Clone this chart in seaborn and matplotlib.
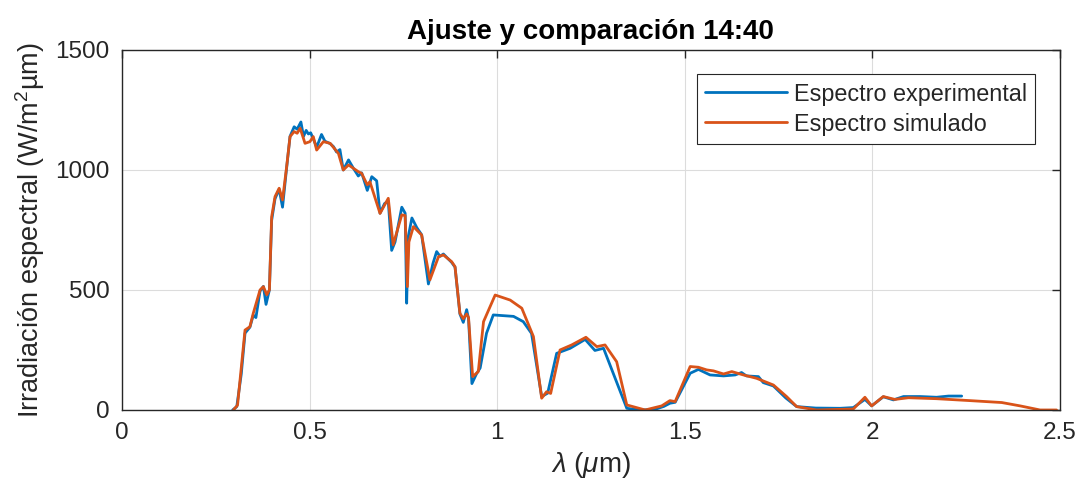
"""Ajuste y comparación del espectro experimental con el simulado (14:40)."""

import matplotlib
matplotlib.use("Agg")
import matplotlib.pyplot as plt
import numpy as np
import pandas as pd
import seaborn as sns

# --- datos ---
lam_exp = [0.295, 0.306, 0.318, 0.328, 0.341, 0.350, 0.357, 0.368, 0.377, 0.384,
           0.393, 0.399, 0.408, 0.419, 0.428, 0.439, 0.448, 0.459, 0.467, 0.477,
           0.484, 0.491, 0.497, 0.503, 0.510, 0.519, 0.532, 0.541, 0.555, 0.564,
           0.572, 0.581, 0.590, 0.604, 0.617, 0.630, 0.639, 0.654, 0.666, 0.679,
           0.688, 0.700, 0.710, 0.719, 0.728, 0.746, 0.755, 0.759, 0.763, 0.773,
           0.786, 0.799, 0.817, 0.829, 0.839, 0.848, 0.857, 0.879, 0.888, 0.901,
           0.910, 0.919, 0.924, 0.933, 0.945, 0.955, 0.972, 0.990, 1.044, 1.070,
           1.092, 1.119, 1.135, 1.159, 1.195, 1.235, 1.261, 1.284, 1.346, 1.380,
           1.420, 1.445, 1.461, 1.475, 1.515, 1.537, 1.568, 1.604, 1.635, 1.652,
           1.665, 1.697, 1.710, 1.737, 1.770, 1.799, 1.850, 1.915, 1.950, 1.981,
           1.999, 2.030, 2.057, 2.084, 2.128, 2.172, 2.204, 2.239]
irr_exp = [0, 14, 150, 320, 345, 395, 385, 495, 515, 440,
           500, 790, 880, 920, 845, 1010, 1140, 1180, 1170, 1200,
           1140, 1165, 1150, 1155, 1130, 1095, 1148, 1120, 1110, 1097,
           1075, 1085, 1000, 1042, 1007, 975, 988, 915, 972, 955,
           820, 860, 870, 665, 700, 845, 820, 445, 720, 800,
           760, 730, 525, 610, 660, 640, 650, 615, 595, 400,
           365, 418, 380, 110, 150, 175, 320, 396, 390, 368,
           319, 56, 70, 236, 257, 294, 248, 257, 7, 0,
           2, 15, 28, 32, 153, 169, 146, 142, 146, 156,
           142, 139, 114, 100, 50, 14, 8, 7, 10, 44,
           17, 55, 42, 56, 56, 53, 58, 58]

lam_sim = [0.297, 0.308, 0.328, 0.341, 0.350, 0.368, 0.377, 0.386, 0.393, 0.399,
           0.408, 0.419, 0.428, 0.439, 0.448, 0.459, 0.467, 0.475, 0.488, 0.501,
           0.510, 0.519, 0.537, 0.555, 0.577, 0.590, 0.604, 0.617, 0.630, 0.639,
           0.654, 0.661, 0.688, 0.710, 0.723, 0.746, 0.755, 0.761, 0.765, 0.777,
           0.799, 0.821, 0.844, 0.857, 0.879, 0.888, 0.901, 0.910, 0.919, 0.924,
           0.935, 0.950, 0.964, 0.995, 1.035, 1.066, 1.097, 1.119, 1.132, 1.143,
           1.168, 1.199, 1.237, 1.266, 1.288, 1.319, 1.346, 1.395, 1.439, 1.461,
           1.475, 1.515, 1.537, 1.559, 1.577, 1.604, 1.626, 1.657, 1.692, 1.737,
           1.772, 1.799, 1.852, 1.950, 1.981, 1.999, 2.030, 2.061, 2.097, 2.172,
           2.261, 2.346, 2.395, 2.448, 2.492]
irr_sim = [0, 20, 333, 347, 403, 500, 514, 480, 500, 805,
           889, 924, 875, 1014, 1139, 1160, 1153, 1174, 1111, 1118,
           1139, 1083, 1118, 1111, 1069, 1000, 1021, 1007, 993, 986,
           938, 951, 819, 882, 688, 813, 810, 514, 700, 764,
           729, 542, 639, 646, 618, 597, 403, 380, 400, 385,
           139, 160, 368, 479, 458, 424, 306, 49, 76, 69,
           250, 271, 303, 264, 271, 201, 21, 0, 17, 39,
           35, 181, 178, 167, 163, 150, 160, 146, 132, 104,
           56, 14, 0, 4, 53, 17, 56, 44, 51, 47,
           39, 31, 17, 0, 0]

series_names = ["Espectro experimental", "Espectro simulado"]
colors = ["#0072BD", "#D95319"]

sns.set_theme(style="whitegrid")
plt.rcParams["font.family"] = ["Liberation Sans", "DejaVu Sans"]
plt.rcParams["mathtext.fontset"] = "custom"
plt.rcParams["mathtext.it"] = "Liberation Sans:italic"
plt.rcParams["mathtext.rm"] = "Liberation Sans"

df = pd.concat([
    pd.DataFrame({"lam": lam_exp, "irr": irr_exp, "serie": series_names[0]}),
    pd.DataFrame({"lam": lam_sim, "irr": irr_sim, "serie": series_names[1]}),
], ignore_index=True)

fig = plt.figure(figsize=(10.77, 4.93), dpi=100)
ax = fig.add_axes([0.1133, 0.1684, 0.8705, 0.7302])

sns.lineplot(data=df, x="lam", y="irr", hue="serie", hue_order=series_names,
             palette=colors, linewidth=2.0, sort=False, estimator=None, ax=ax)

ax.set_xlim(0, 2.5)
ax.set_ylim(0, 1500)
ax.set_xticks(np.arange(0, 2.51, 0.5))
ax.set_xticklabels(["0", "0.5", "1", "1.5", "2", "2.5"])
ax.set_yticks([0, 500, 1000, 1500])

ax.set_facecolor("white")
ax.grid(True, color="#dcdcdc", linewidth=0.8)
for sp in ax.spines.values():
    sp.set_visible(True)
    sp.set_color("#262626")
    sp.set_linewidth(1.0)
ax.tick_params(direction="in", length=6, width=1.0, color="#262626",
               top=True, right=True, labelsize=17.5, labelcolor="#262626", pad=9)

ax.set_title("Ajuste y comparación 14:40", fontsize=20, fontweight="bold",
             pad=8, color="black")
ax.set_xlabel(r"$\lambda$ ($\mu$m)", fontsize=20, color="#262626", labelpad=4)
ax.set_ylabel(r"Irradiación espectral (W/m$^2$µm)", fontsize=19.5,
              color="#262626", labelpad=6)

leg = ax.legend(loc="upper right", fontsize=16.8, frameon=True, fancybox=False,
                borderaxespad=1.05, handlelength=3.5, handletextpad=0.3,
                borderpad=0.35, labelspacing=0.3, edgecolor="#262626",
                framealpha=1)
leg.get_frame().set_linewidth(0.8)
leg.set_title(None)

fig.savefig("out.png", dpi=100)
